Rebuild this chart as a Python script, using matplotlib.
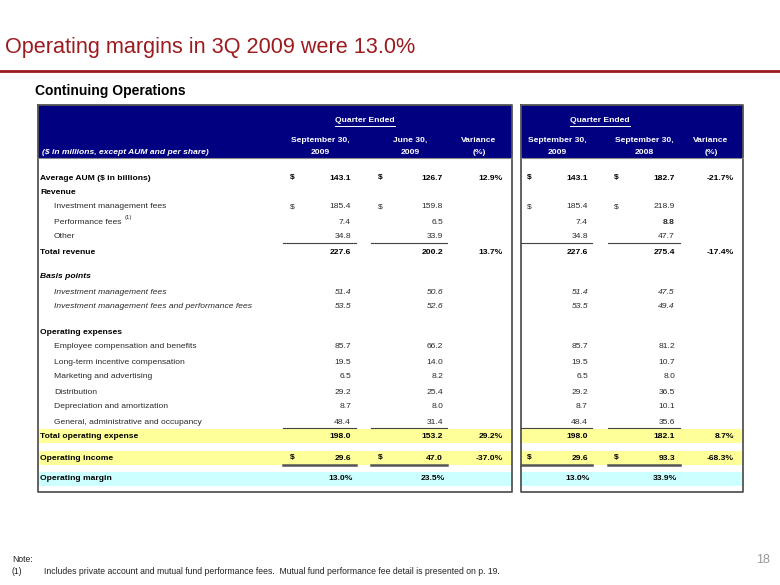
import matplotlib
matplotlib.use("Agg")
import matplotlib.pyplot as plt
from matplotlib import font_manager as fm

# ---------------- data ----------------
title = "Operating margins in 3Q 2009 were 13.0%"
subtitle = "Continuing Operations"
units_note = "($ in millions, except AUM and per share)"
group_header = "Quarter Ended"
col_headers = [("September 30,", "2009"), ("June 30,", "2009"), ("Variance", "(%)"),
               ("September 30,", "2009"), ("September 30,", "2008"), ("Variance", "(%)")]

row_labels = ["Average AUM ($ in billions)", "Revenue", "Investment management fees",
              "Performance fees", "Other", "Total revenue", "Basis points",
              "Investment management fees", "Investment management fees and performance fees",
              "Operating expenses", "Employee compensation and benefits",
              "Long-term incentive compensation", "Marketing and advertising", "Distribution",
              "Depreciation and amortization", "General, administrative and occupancy",
              "Total operating expense", "Operating income", "Operating margin"]
row_styles = ["bold", "bold", "indent", "indent", "indent", "bold", "bolditalic",
              "italicindent", "italicindent", "bold", "indent", "indent", "indent", "indent",
              "indent", "indent", "bold", "bold", "bold"]

sep09 = [143.1, None, 185.4, 7.4, 34.8, 227.6, None, 51.4, 53.5, None,
         85.7, 19.5, 6.5, 29.2, 8.7, 48.4, 198.0, 29.6, 13.0]
jun09 = [126.7, None, 159.8, 6.5, 33.9, 200.2, None, 50.6, 52.6, None,
         66.2, 14.0, 8.2, 25.4, 8.0, 31.4, 153.2, 47.0, 23.5]
var_q = [12.9, None, None, None, None, 13.7, None, None, None, None,
         None, None, None, None, None, None, 29.2, -37.0, None]
sep08 = [182.7, None, 218.9, 8.8, 47.7, 275.4, None, 47.5, 49.4, None,
         81.2, 10.7, 8.0, 36.5, 10.1, 35.6, 182.1, 93.3, 33.9]
var_y = [-21.7, None, None, None, None, -17.4, None, None, None, None,
         None, None, None, None, None, None, 8.7, -68.3, None]

dollar_rows = [0, 2, 17]
percent_rows = [18]
underline_rows = [4, 15]
double_underline_rows = [17]
yellow_rows = [16, 17]
cyan_rows = [18]
footnote_row = 3

note_lines = ["Note:", "(1)"]
note_text = "Includes private account and mutual fund performance fees.  Mutual fund performance fee detail is presented on p. 19."
page_num = "18"

# ---------------- layout ----------------
avail = {f.name for f in fm.fontManager.ttflist}
narrow = "Liberation Sans Narrow" if "Liberation Sans Narrow" in avail else "Liberation Sans"
base = "Liberation Sans"

fig = plt.figure(figsize=(7.8, 5.85), dpi=100)
ax = fig.add_axes([0, 0, 1, 1])
ax.set_xlim(0, 780)
ax.set_ylim(585, 0)
ax.axis("off")

RED = "#9C1B1F"
NAVY = "#000080"
TXT = "#2a2a2a"
FS = 6.1

ax.text(5, 48, title, fontsize=21 if narrow != base else 15.6, color=RED, family=narrow,
        va="center", ha="left")
ax.plot([0, 780], [71, 71], color=RED, lw=2)
ax.text(35, 91, subtitle, fontsize=11.5 if narrow != base else 10, fontweight="bold",
        family=narrow, va="center", ha="left", color="black")

tables = [(38, 512), (521, 743)]
top, hdr_bot, bot = 105, 158, 492

row_y = [178, 192, 207, 222, 237, 252, 277, 292, 307, 332, 347, 362, 377, 392, 407,
         422, 436, 458, 479]
band = {16: (429, 443), 17: (451, 465), 18: (472, 486)}

for x0, x1 in tables:
    for r in yellow_rows:
        y0, y1 = band[r]
        ax.fill_between([x0, x1], y0, y1, color="#FFFF99", lw=0, zorder=1)
    for r in cyan_rows:
        y0, y1 = band[r]
        ax.fill_between([x0, x1], y0, y1, color="#CCFFFF", lw=0, zorder=1)
    ax.fill_between([x0, x1], top, hdr_bot, color=NAVY, lw=0, zorder=2)
    ax.plot([x0, x1, x1, x0, x0], [top, top, bot, bot, top], color="#555555", lw=1.3, zorder=3)
    ax.plot([x0, x1], [hdr_bot, hdr_bot], color="#888888", lw=0.8, zorder=3)

col_center = [320, 410, 479, 557, 644, 711]
col_right = [351, 443, 503, 588, 675, 734]
col_ul = [(283, 356), (371, 447), None, (521, 592), (608, 680), None]
dollar_x = {0: 290, 1: 378, 3: 527, 4: 614}
columns = [sep09, jun09, var_q, sep09, sep08, var_y]

hdr_kw = dict(fontsize=FS, color="white", fontweight="bold", family=base, ha="center", va="center", zorder=4)
fig.canvas.draw()
rend = fig.canvas.get_renderer()
inv = ax.transData.inverted()
for cx in (365, 600):
    t = ax.text(cx, 121, group_header, **hdr_kw)
    bb = t.get_window_extent(rend)
    (a, _), (b, _) = inv.transform([[bb.x0, bb.y0], [bb.x1, bb.y0]])
    ax.plot([a, b], [126, 126], color="white", lw=0.7, zorder=4)
for c, (l1, l2) in enumerate(col_headers):
    ax.text(col_center[c], 140, l1, **hdr_kw)
    ax.text(col_center[c], 152, l2, **hdr_kw)
ax.text(42, 152, units_note, fontsize=FS, color="white", fontweight="bold", style="italic",
        family=base, ha="left", va="center", zorder=4)

for r, (lab, st) in enumerate(zip(row_labels, row_styles)):
    y = row_y[r]
    bold = "bold" in st
    ital = "italic" in st
    x = 54 if "indent" in st else 40
    col = "black" if bold else TXT
    kw = dict(fontsize=FS, family=base, color=col, va="center", zorder=5,
              fontweight="bold" if bold else "normal", style="italic" if ital else "normal")
    t = ax.text(x, y, lab, ha="left", **kw)
    if r == footnote_row:
        bb = t.get_window_extent(rend)
        xe = inv.transform([[bb.x1, bb.y0]])[0][0]
        ax.text(xe + 3, y - 4, "(1)", fontsize=4.2, family=base, color=col, ha="left", va="center")
    for c, vals in enumerate(columns):
        v = vals[r]
        if v is None:
            continue
        is_pct = c in (2, 5) or r in percent_rows
        s = f"{v:.1f}" + ("%" if is_pct else "")
        b = bold or (c == 4 and r == footnote_row)
        kw2 = dict(kw)
        kw2["fontweight"] = "bold" if b else "normal"
        xr = col_right[c] + (2 if (r in percent_rows and c not in (2, 5)) else 0)
        ax.text(xr, y, s, ha="right", **kw2)
        if r in dollar_rows and c in dollar_x:
            ax.text(dollar_x[c], y, "$", ha="left", **kw2)
        if r in underline_rows and col_ul[c]:
            a, b_ = col_ul[c]
            ax.plot([a, b_], [y + 5.5, y + 5.5], color="#444444", lw=0.8, zorder=5)
        if r in double_underline_rows and col_ul[c]:
            a, b_ = col_ul[c]
            ax.plot([a, b_], [y + 6.5, y + 6.5], color="#555555", lw=1.8, zorder=5)

ax.text(12, 560, note_lines[0], fontsize=6.2, family=base, color="#222222", va="center")
ax.text(12, 572, note_lines[1], fontsize=6.2, family=base, color="#222222", va="center")
ax.text(44, 572, note_text, fontsize=6.2, family=base, color="#222222", va="center")
ax.text(770, 560, page_num, fontsize=9, family=base, color="#999999", va="center", ha="right")

fig.savefig("out.png", dpi=100)
